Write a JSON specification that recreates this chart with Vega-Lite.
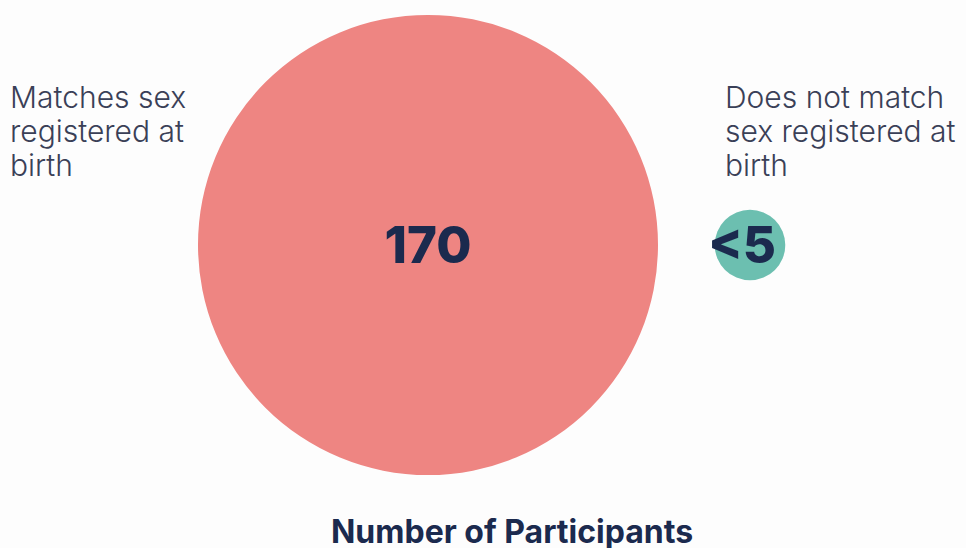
{
  "$schema": "https://vega.github.io/schema/vega-lite/v6.json",
  "width": 966,
  "height": 490,
  "autosize": "none",
  "padding": {"left": 0, "right": 0, "top": 0, "bottom": 58},
  "background": "#fdfdfd",
  "title": {
    "text": "Number of Participants",
    "orient": "bottom",
    "anchor": "middle",
    "dx": 29,
    "offset": 28,
    "font": "Inter",
    "fontSize": 32,
    "fontWeight": 700,
    "color": "#1b2a4e"
  },
  "config": {"view": {"stroke": null}},
  "data": {
    "values": [
      {"group": "Matches sex registered at birth", "label": "Matches sex|registered at|birth", "count": 170, "display": "170"},
      {"group": "Does not match sex registered at birth", "label": "Does not match|sex registered at|birth", "count": 4, "display": "<5"}
    ]
  },
  "layer": [
    {
      "mark": {"type": "circle", "opacity": 1},
      "encoding": {
        "x": {"field": "group", "type": "nominal", "axis": null,
              "scale": {"type": "point", "padding": 0, "domain": ["Matches sex registered at birth", "Does not match sex registered at birth"], "range": [428, 750]}},
        "size": {"field": "count", "type": "quantitative", "legend": null,
                 "scale": {"domain": [0, 170], "range": [0, 211600]}},
        "color": {"field": "group", "type": "nominal", "legend": null,
                  "scale": {"domain": ["Matches sex registered at birth", "Does not match sex registered at birth"], "range": ["#ee8582", "#6cbfb0"]}}
      }
    },
    {
      "mark": {"type": "text", "font": "Inter", "fontSize": 51, "fontWeight": 800, "letterSpacing": 4, "color": "#1b2a4e", "baseline": "middle", "align": "center", "dy": 3},
      "encoding": {
        "x": {"field": "group", "type": "nominal", "axis": null,
              "scale": {"type": "point", "padding": 0, "domain": ["Matches sex registered at birth", "Does not match sex registered at birth"], "range": [428, 742]}},
        "text": {"field": "display", "type": "nominal"}
      }
    },
    {
      "mark": {"type": "text", "font": "Inter", "fontSize": 30, "fontWeight": 300, "color": "#3a4057", "baseline": "alphabetic", "align": "left", "lineBreak": "|", "lineHeight": 34, "dy": -137},
      "encoding": {
        "x": {"field": "group", "type": "nominal", "axis": null,
              "scale": {"type": "point", "padding": 0, "domain": ["Matches sex registered at birth", "Does not match sex registered at birth"], "range": [10, 725]}},
        "text": {"field": "label", "type": "nominal"}
      }
    }
  ],
  "resolve": {"scale": {"x": "independent"}}
}
